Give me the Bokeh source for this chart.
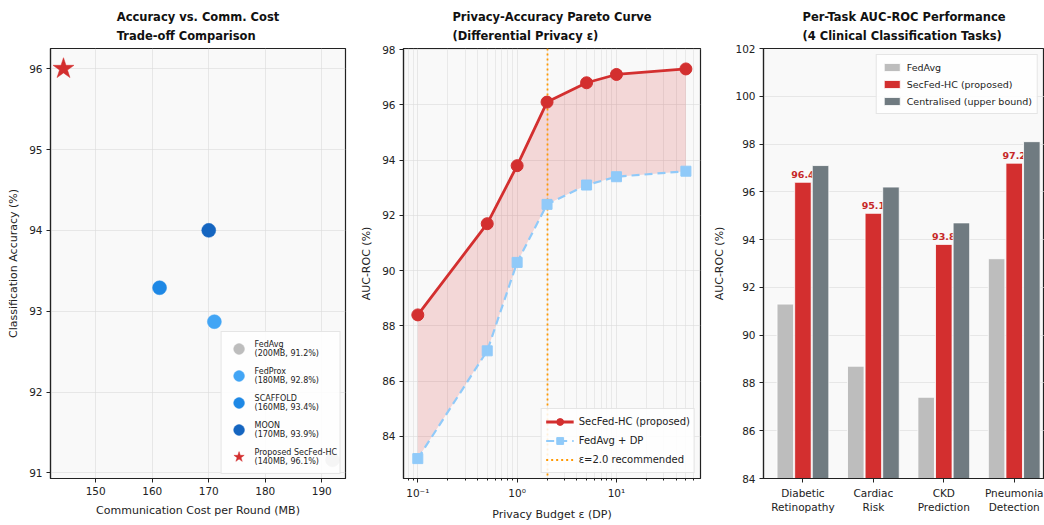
from bokeh.plotting import figure
from bokeh.layouts import row
from bokeh.models import Range1d, FixedTicker, Legend, LegendItem, ColumnDataSource
from bokeh.transform import dodge
from bokeh.core.properties import value
from bokeh.embed import file_html
from bokeh.resources import INLINE

FONT = "DejaVu Sans"

# ---------------- Panel 1 data ----------------
methods = ["FedAvg", "FedProx", "SCAFFOLD", "MOON", "Proposed SecFed-HC"]
method_labels = ["FedAvg\n(200MB, 91.2%)", "FedProx\n(180MB, 92.8%)", "SCAFFOLD\n(160MB, 93.4%)",
                 "MOON\n(170MB, 93.9%)", "Proposed SecFed-HC\n(140MB, 96.1%)"]
comm_cost = [191.9, 171.0, 161.3, 170.0, 144.3]
accuracy = [91.16, 92.87, 93.29, 94.0, 96.0]
method_colors = ["#bdbdbd", "#42a5f5", "#1e88e5", "#1565c0", "#d32f2f"]
method_markers = ["circle", "circle", "circle", "circle", "star"]

# ---------------- Panel 2 data ----------------
epsilon = [0.1, 0.5, 1.0, 2.0, 5.0, 10.0, 50.0]
secfed_auc = [88.4, 91.7, 93.8, 96.1, 96.8, 97.1, 97.3]
fedavg_dp_auc = [83.2, 87.1, 90.3, 92.4, 93.1, 93.4, 93.6]
recommended_eps = [2.0]

# ---------------- Panel 3 data ----------------
tasks = ["Diabetic\nRetinopathy", "Cardiac\nRisk", "CKD\nPrediction", "Pneumonia\nDetection"]
task_fedavg = [91.3, 88.7, 87.4, 93.2]
task_secfed = [96.4, 95.1, 93.8, 97.2]
task_central = [97.1, 96.2, 94.7, 98.1]

H = 525
BT = 48
BB = 47


def style(p, title):
    p.title.text = title
    p.title.align = "center"
    p.title.text_font = FONT
    p.title.text_font_size = "11.5px"
    p.title.text_font_style = "bold"
    p.title.text_color = "#111111"
    p.title.text_line_height = 1.4
    p.background_fill_color = "#f9f9f9"
    p.border_fill_color = "white"
    p.outline_line_color = "#222222"
    p.outline_line_width = 1.2
    for ax in list(p.xaxis) + list(p.yaxis):
        ax.axis_line_color = "#222222"
        ax.axis_line_width = 1.2
        ax.major_tick_out = 4
        ax.major_tick_in = 0
        ax.minor_tick_out = 0
        ax.minor_tick_in = 0
        ax.major_tick_line_color = "#222222"
        ax.major_label_text_font = FONT
        ax.major_label_text_font_size = "10.5px"
        ax.major_label_text_color = "#222222"
        ax.major_label_standoff = 4
        ax.axis_label_text_font = FONT
        ax.axis_label_text_font_size = "11px"
        ax.axis_label_text_font_style = "normal"
        ax.axis_label_text_color = "#222222"
        ax.axis_label_standoff = 6
    for g in list(p.xgrid) + list(p.ygrid):
        g.grid_line_color = "#dcdcdc"
        g.grid_line_alpha = 0.8
        g.grid_line_width = 0.8


def style_legend(leg, size):
    leg.label_text_font = FONT
    leg.label_text_font_size = size
    leg.label_text_color = "#222222"
    leg.border_line_color = "#cccccc"
    leg.background_fill_color = "white"
    leg.background_fill_alpha = 0.85


# ---------------- Panel 1 ----------------
p1 = figure(width=355, height=H, output_backend="svg", toolbar_location=None,
            x_range=Range1d(142.0, 194.2), y_range=Range1d(90.93, 96.25),
            min_border_left=50, min_border_right=10, min_border_top=BT, min_border_bottom=BB)
style(p1, "Accuracy vs. Comm. Cost\nTrade-off Comparison")
p1.xaxis.axis_label = "Communication Cost per Round (MB)"
p1.yaxis.axis_label = "Classification Accuracy (%)"
p1.xaxis.ticker = FixedTicker(ticks=[150, 160, 170, 180, 190])
p1.yaxis.ticker = FixedTicker(ticks=[91, 92, 93, 94, 95, 96])

items1 = []
for m, lab, cx, ac, col, mk in zip(methods, method_labels, comm_cost, accuracy, method_colors, method_markers):
    r = p1.scatter(x=[cx], y=[ac], marker=mk, size=22 if mk == "star" else 14,
                   fill_color=col, line_color=col, line_width=0.5)
    items1.append(LegendItem(label=lab, renderers=[r]))
leg1 = Legend(items=items1, location="bottom_right")
style_legend(leg1, "8px")
leg1.label_height = 22
leg1.glyph_height = 27
leg1.glyph_width = 28
leg1.spacing = 0
leg1.padding = 3
leg1.margin = 4
leg1.label_standoff = 2
p1.add_layout(leg1)

# ---------------- Panel 2 ----------------
p2 = figure(width=355, height=H, output_backend="svg", toolbar_location=None, x_axis_type="log",
            x_range=Range1d(10 ** -1.144, 10 ** 1.846), y_range=Range1d(82.48, 98.04),
            min_border_left=48, min_border_right=10, min_border_top=BT, min_border_bottom=BB)
style(p2, "Privacy-Accuracy Pareto Curve\n(Differential Privacy ε)")
p2.xaxis.axis_label = "Privacy Budget ε (DP)"
p2.yaxis.axis_label = "AUC-ROC (%)"
minor = [0.08, 0.09, 0.2, 0.3, 0.4, 0.5, 0.6, 0.7, 0.8, 0.9, 2, 3, 4, 5, 6, 7, 8, 9, 20, 30, 40, 50, 60]
p2.xaxis.ticker = FixedTicker(ticks=[0.1, 1, 10], minor_ticks=minor)
p2.xgrid.ticker = FixedTicker(ticks=[0.1, 1, 10], minor_ticks=minor)
p2.xaxis.major_label_overrides = {0.1: "10⁻¹", 1: "10⁰", 10: "10¹"}
p2.xaxis.minor_tick_out = 2
p2.xaxis.minor_tick_line_color = "#222222"
p2.xgrid.minor_grid_line_color = "#d8d8d8"
p2.xgrid.minor_grid_line_alpha = 0.7
p2.xgrid.minor_grid_line_width = 0.7
p2.yaxis.ticker = FixedTicker(ticks=[84, 86, 88, 90, 92, 94, 96, 98])

src2 = ColumnDataSource(dict(eps=epsilon, sec=secfed_auc, fed=fedavg_dp_auc))
p2.varea(x="eps", y1="fed", y2="sec", source=src2, fill_color="#d32f2f", fill_alpha=0.17)
l_rec = p2.vspan(x=recommended_eps, line_color="#ff9800", line_dash="2 3", line_width=1.8)
l_sec = p2.line(x="eps", y="sec", source=src2, line_color="#d32f2f", line_width=2.8)
s_sec = p2.scatter(x="eps", y="sec", source=src2, marker="circle", size=12,
                   fill_color="#d32f2f", line_color="#d32f2f")
l_fed = p2.line(x="eps", y="fed", source=src2, line_color="#90caf9", line_width=2.2, line_dash="8 5")
s_fed = p2.scatter(x="eps", y="fed", source=src2, marker="square", size=10,
                   fill_color="#90caf9", line_color="#90caf9")
leg2 = Legend(items=[LegendItem(label="SecFed-HC (proposed)", renderers=[l_sec, s_sec]),
                     LegendItem(label="FedAvg + DP", renderers=[l_fed, s_fed]),
                     LegendItem(label="ε=2.0 recommended", renderers=[l_rec])],
              location="bottom_right")
style_legend(leg2, "10px")
leg2.label_height = 17
leg2.glyph_height = 17
leg2.glyph_width = 28
leg2.spacing = 2
leg2.padding = 4
leg2.margin = 5
p2.add_layout(leg2)

# ---------------- Panel 3 ----------------
p3 = figure(width=334, height=H, output_backend="svg", toolbar_location=None,
            x_range=Range1d(-0.56, 3.43), y_range=Range1d(84, 102),
            min_border_left=47, min_border_right=0, min_border_top=BT, min_border_bottom=BB)
style(p3, "Per-Task AUC-ROC Performance\n(4 Clinical Classification Tasks)")
p3.yaxis.axis_label = "AUC-ROC (%)"
p3.xaxis.ticker = FixedTicker(ticks=list(range(len(tasks))))
p3.xaxis.major_label_overrides = {i: t for i, t in enumerate(tasks)}
p3.yaxis.ticker = FixedTicker(ticks=list(range(84, 103, 2)))
p3.xgrid.grid_line_color = None

src3 = ColumnDataSource(dict(idx=list(range(len(tasks))), fedavg=task_fedavg, secfed=task_secfed,
                             central=task_central, lab=["%.1f" % v for v in task_secfed]))
b1 = p3.vbar(x=dodge("idx", -0.25, range=p3.x_range), top="fedavg", bottom=0, width=0.235, source=src3,
             fill_color="#bdbdbd", line_color="white", line_width=0.8)
p3.text(x=dodge("idx", 0.0, range=p3.x_range), y="secfed", text="lab", source=src3, y_offset=-4,
        text_align="center", text_baseline="bottom", text_font=value(FONT), text_font_size="9.5px",
        text_font_style="bold", text_color="#c62828")
b2 = p3.vbar(x=dodge("idx", 0.0, range=p3.x_range), top="secfed", bottom=0, width=0.235, source=src3,
             fill_color="#d32f2f", line_color="white", line_width=0.8)
b3 = p3.vbar(x=dodge("idx", 0.25, range=p3.x_range), top="central", bottom=0, width=0.235, source=src3,
             fill_color="#707b81", line_color="white", line_width=0.8)
leg3 = Legend(items=[LegendItem(label="FedAvg", renderers=[b1]),
                     LegendItem(label="SecFed-HC (proposed)", renderers=[b2]),
                     LegendItem(label="Centralised (upper bound)", renderers=[b3])],
              location="top_right")
style_legend(leg3, "9.5px")
leg3.label_height = 14
leg3.glyph_height = 10
leg3.glyph_width = 20
leg3.spacing = 3
leg3.padding = 5
leg3.margin = 6
p3.add_layout(leg3)

layout = row(p1, p2, p3, spacing=0)
open("out.html", "w").write(file_html(layout, INLINE))
